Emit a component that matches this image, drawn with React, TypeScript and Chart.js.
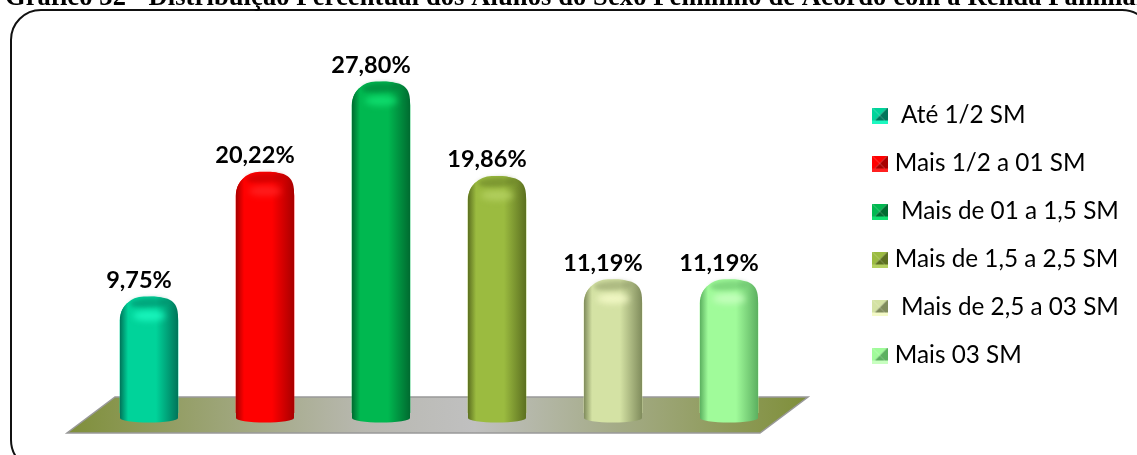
import React, { useEffect, useRef } from "react";
import { Chart, registerables } from "chart.js";

Chart.register(...registerables);

const TITLE = "Gráfico 32 - Distribuição Percentual dos Alunos do Sexo Feminino de Acordo com a Renda Familiar";
const categories = [" Até 1/2 SM", "Mais 1/2 a 01 SM", " Mais de 01 a 1,5 SM", "Mais de 1,5 a 2,5 SM", " Mais de 2,5 a 03 SM", "Mais 03 SM"];
const values = [9.75, 20.22, 27.8, 19.86, 11.19, 11.19];
const valueLabels = ["9,75%", "20,22%", "27,80%", "19,86%", "11,19%", "11,19%"];
const mainColors = ["#00d39a", "#ff0000", "#00b850", "#9bbb40", "#d4e2a4", "#a0fb9a"];
const darkColors = ["#00755a", "#a80000", "#006b30", "#5c7020", "#808c5c", "#5cb060"];
const lightColors = ["#1cf8c0", "#ff2020", "#10e070", "#b4d060", "#f4fac8", "#c8ffc0"];

function bevel(main: string, dark: string, light: string) {
  const c = document.createElement("canvas");
  c.width = 16;
  c.height = 16;
  const g = c.getContext("2d")!;
  const tri = (pts: number[][], col: string) => {
    g.fillStyle = col;
    g.beginPath();
    pts.forEach((p, i) => (i ? g.lineTo(p[0], p[1]) : g.moveTo(p[0], p[1])));
    g.closePath();
    g.fill();
  };
  tri([[0, 0], [16, 0], [8, 8]], main);
  tri([[0, 0], [0, 16], [8, 8]], main);
  tri([[16, 0], [16, 16], [8, 8]], dark);
  tri([[0, 16], [16, 16], [8, 8]], dark);
  tri([[0, 13], [16, 13], [16, 16], [0, 16]], light);
  return c;
}

function sideGradient(ctx: any, l: number, w: number, i: number) {
  const g = ctx.createLinearGradient(l, 0, l + w, 0);
  g.addColorStop(0, darkColors[i]);
  g.addColorStop(0.14, mainColors[i]);
  g.addColorStop(0.62, mainColors[i]);
  g.addColorStop(1, darkColors[i]);
  return g;
}

const cylinderPlugin = {
  id: "cylinder",
  afterLayout(chart: any) {
    // the legend clips to its box; the labels need the full width up to the page edge
    if (chart.legend) chart.legend.right = 1137;
  },
  beforeDatasetsDraw(chart: any) {
    const ctx = chart.ctx;
    ctx.save();
    ctx.strokeStyle = "#111";
    ctx.lineWidth = 2;
    ctx.beginPath();
    ctx.roundRect(11, 10, 1141, 460, 30);
    ctx.stroke();
    ctx.fillStyle = "#000";
    ctx.font = "bold 26.5px 'Liberation Serif'";
    ctx.letterSpacing = "0.11px";
    ctx.textBaseline = "alphabetic";
    ctx.textAlign = "left";
    ctx.fillText(TITLE, 5, 5);
    ctx.letterSpacing = "0px";
    const g = ctx.createLinearGradient(67, 0, 808, 0);
    g.addColorStop(0, "#7f8f3a");
    g.addColorStop(0.4, "#b8b8b0");
    g.addColorStop(0.55, "#c0c0c0");
    g.addColorStop(1, "#7f8f3a");
    ctx.fillStyle = g;
    ctx.beginPath();
    ctx.moveTo(115, 397);
    ctx.lineTo(808, 397);
    ctx.lineTo(760, 433);
    ctx.lineTo(67, 433);
    ctx.closePath();
    ctx.fill();
    ctx.strokeStyle = "#999";
    ctx.lineWidth = 1.5;
    ctx.stroke();
    ctx.restore();
  },
  afterDatasetsDraw(chart: any) {
    const ctx = chart.ctx;
    const meta = chart.getDatasetMeta(0);
    meta.data.forEach((bar: any, i: number) => {
      const w = bar.width;
      const l = bar.x - w / 2;
      const base = bar.base;
      ctx.save();
      const side = sideGradient(ctx, l, w, i);
      ctx.fillStyle = side;
      ctx.beginPath();
      ctx.rect(l, bar.y + 20, w, base + 5 - bar.y - 20);
      ctx.ellipse(bar.x, base + 5, w / 2, 4.5, 0, 0, Math.PI * 2);
      ctx.fill();
      ctx.beginPath();
      ctx.moveTo(l, bar.y + 24);
      ctx.bezierCurveTo(l, bar.y + 6, l + w * 0.22, bar.y + 1, bar.x + 2, bar.y);
      ctx.bezierCurveTo(l + w * 0.85, bar.y, l + w, bar.y + 4, l + w, bar.y + 20);
      ctx.lineTo(l + w, bar.y + 24);
      ctx.closePath();
      ctx.fill();
      ctx.beginPath();
      ctx.ellipse(bar.x, bar.y + 6, w * 0.33, 5, -0.05, 0, Math.PI * 2);
      ctx.fillStyle = darkColors[i];
      ctx.globalAlpha = 0.45;
      ctx.filter = "blur(2px)";
      ctx.fill();
      ctx.beginPath();
      ctx.ellipse(bar.x, bar.y + 19, w * 0.28, 5, 0, 0, Math.PI * 2);
      ctx.fillStyle = lightColors[i];
      ctx.globalAlpha = 0.9;
      ctx.filter = "blur(3px)";
      ctx.fill();
      ctx.restore();
      ctx.save();
      ctx.fillStyle = "#000";
      ctx.font = "bold 23.5px Lato";
      ctx.textAlign = "center";
      ctx.textBaseline = "alphabetic";
      ctx.fillText(valueLabels[i], bar.x - 10, bar.y - 9);
      ctx.restore();
    });
  },
};

export default function App() {
  const ref = useRef<HTMLCanvasElement>(null);
  useEffect(() => {
    document.body.style.margin = "0";
    const icons = mainColors.map((m, i) => bevel(m, darkColors[i], lightColors[i]));
    const chart = new Chart(ref.current!, {
      type: "bar",
      data: {
        labels: categories,
        datasets: [
          {
            data: values,
            barThickness: 58,
            borderRadius: { topLeft: 24, topRight: 24, bottomLeft: 0, bottomRight: 0 },
            borderSkipped: false,
            backgroundColor: mainColors,
          },
        ],
      },
      options: {
        responsive: false,
        animation: false,
        layout: { padding: { left: 91, right: 30, top: 58, bottom: 42 } },
        scales: {
          x: { display: false },
          y: {
            position: "right",
            min: 0,
            max: 29.8,
            grid: { display: false },
            border: { display: false },
            ticks: { display: false },
            afterFit: (s: any) => {
              s.width = 66;
            },
          },
        },
        plugins: {
          title: { display: false },
          tooltip: { enabled: false },
          legend: {
            position: "right",
            align: "center",
            labels: {
              color: "#111",
              font: { family: "Lato", size: 24.3 },
              boxWidth: 6,
              boxHeight: 16,
              padding: 23.7,
              usePointStyle: true,
              generateLabels: () =>
                categories.map((t, i) => ({
                  text: t,
                  pointStyle: icons[i],
                  fillStyle: mainColors[i],
                  strokeStyle: mainColors[i],
                  lineWidth: 0,
                  index: i,
                  hidden: false,
                })),
            },
          },
        },
      } as any,
      plugins: [cylinderPlugin],
    });
    return () => chart.destroy();
  }, []);
  return <canvas ref={ref} width={1137} height={455} style={{ display: "block" }} />;
}
